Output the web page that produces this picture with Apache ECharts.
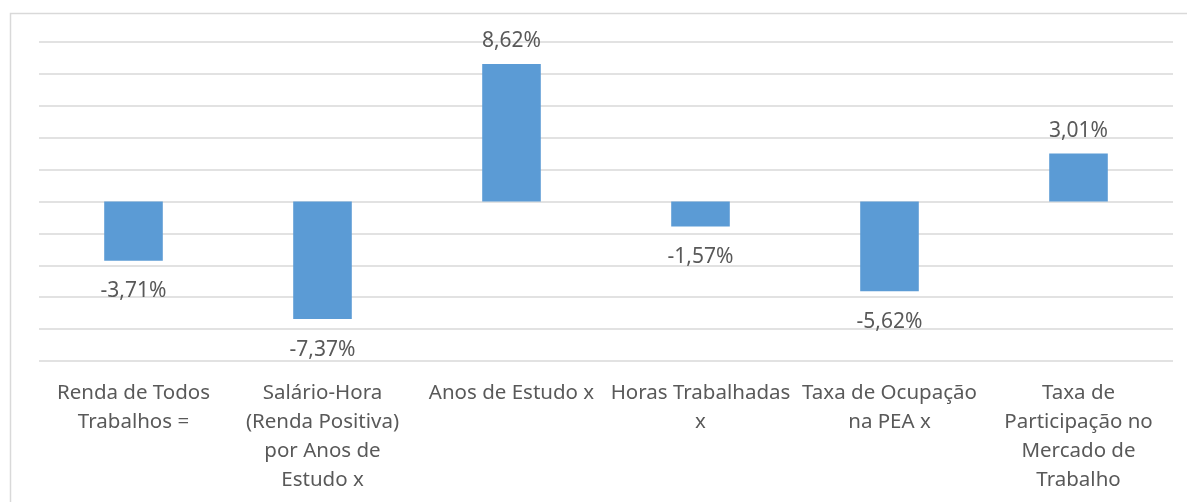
<!DOCTYPE html>
<html>
<head>
<meta charset="utf-8">
<script src="https://cdn.jsdelivr.net/npm/echarts@6/dist/echarts.min.js"></script>
<style>
  html, body { margin: 0; padding: 0; background: #fff; }
  #main { width: 1187px; height: 502px; }
</style>
</head>
<body>
<div id="main"></div>
<script>
// componentes da decomposição
var categorias = [
    'Renda de Todos\nTrabalhos =',
    'Salário-Hora\n(Renda Positiva)\npor Anos de\nEstudo x',
    'Anos de Estudo x',
    'Horas Trabalhadas\nx',
    'Taxa de Ocupação\nna PEA x',
    'Taxa de\nParticipação no\nMercado de\nTrabalho'
];
var variacao = [-3.71, -7.37, 8.62, -1.57, -5.62, 3.01];

var textColor = '#595959';
var gridColor = '#d9d9d9';

var chart = echarts.init(document.getElementById('main'));

var option = {
    backgroundColor: '#fff',
    textStyle: { fontFamily: 'Noto Sans' },
    graphic: [{
        type: 'rect',
        shape: { x: 10.5, y: 13.5, width: 1200, height: 520 },
        style: { fill: 'none', stroke: gridColor, lineWidth: 1.5 },
        silent: true,
        z: -1
    }],
    grid: {
        left: 39,
        right: 14,
        top: 42,
        bottom: 141,
        containLabel: false
    },
    xAxis: {
        type: 'category',
        data: categorias,
        position: 'bottom',
        axisLine: { show: false },
        axisTick: { show: false },
        axisLabel: {
            interval: 0,
            color: textColor,
            fontSize: 20.5,
            lineHeight: 29,
            margin: 18
        }
    },
    yAxis: {
        type: 'value',
        min: -10,
        max: 10,
        interval: 2,
        axisLabel: { show: false },
        axisLine: { show: false },
        axisTick: { show: false },
        splitLine: {
            show: true,
            lineStyle: { color: gridColor, width: 1.5 }
        }
    },
    series: [{
        type: 'bar',
        data: variacao,
        barWidth: '31%',
        itemStyle: { color: '#5b9bd5' },
        label: {
            show: true,
            color: textColor,
            fontSize: 21,
            formatter: function (p) {
                return p.value.toFixed(2).replace('.', ',') + '%';
            }
        }
    }]
};

// rótulo abaixo da barra quando negativo
option.series[0].data = variacao.map(function (v) {
    return {
        value: v,
        label: {
            position: v < 0 ? 'bottom' : 'top',
            distance: v < 0 ? 20 : 12
        }
    };
});

chart.setOption(option);
</script>
</body>
</html>
